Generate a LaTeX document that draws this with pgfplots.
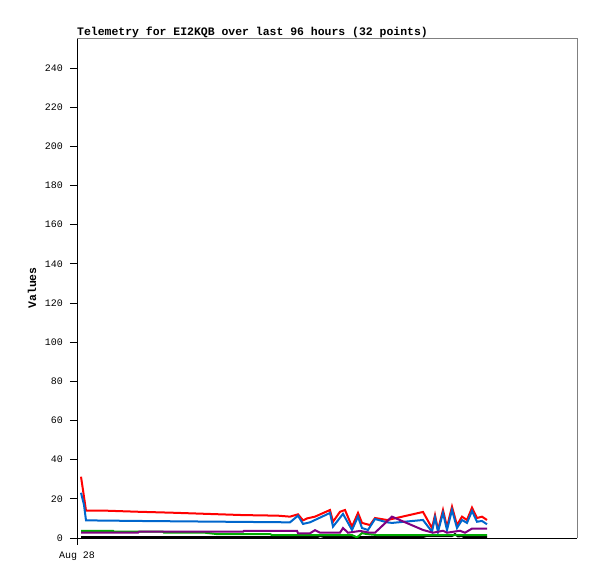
\documentclass[border=0pt]{standalone}
\usepackage{fontspec}
\setmainfont{Liberation Mono}
\usepackage{pgfplots}
\pgfplotsset{compat=1.18}
\definecolor{tred}{RGB}{255,0,0}
\definecolor{tblue}{RGB}{0,102,204}
\definecolor{tgreen}{RGB}{0,170,0}
\definecolor{tpurple}{RGB}{128,0,128}
\begin{document}
\begin{tikzpicture}
\path[use as bounding box] (0,0) rectangle (597bp,579bp);
\begin{axis}[
    at={(77bp,41bp)}, anchor=south west,
    scale only axis, width=500bp, height=500bp,
    xmin=0, xmax=500, ymin=0, ymax=255.3,
    axis x line*=bottom, axis y line*=left,
    axis line style={black, line width=0.8bp, -},
    tick align=outside,
    major tick length=7bp,
    tick style={black, line width=0.8bp},
    ytick={0,20,...,240},
    xtick={0}, xticklabels={Aug 28},
    /pgf/number format/assume math mode=true,
    tick label style={font=\fontsize{10}{12}\selectfont},
    yticklabel style={anchor=east, inner sep=0pt, xshift=-7bp},
    xticklabel style={anchor=north, inner sep=0pt, yshift=-7bp},
    title={Telemetry for EI2KQB over last 96 hours (32 points)},
    title style={at={(0,1)}, anchor=base west, inner sep=0pt, yshift=-3bp,
        font=\bfseries\fontsize{11.5}{13}\selectfont},
    ylabel={Values},
    ylabel style={at={(axis description cs:-0.09,0.5)}, anchor=center, rotate=0,
        font=\bfseries\fontsize{11.5}{13}\selectfont},
    every axis plot/.append style={line width=2bp, no markers},
    after end axis/.code={
        \draw[gray, line width=0.8bp] (rel axis cs:0,1) -- (rel axis cs:1,1) -- (rel axis cs:1,0);
    },
]
% red
\addplot[tred] coordinates {
(4,31.3) (6,24.5) (9,14) (26,14) (61,13.4) (96,12.9) (131,12.3) (166,11.7)
(201,11.4) (213,10.9) (221,12.1) (226,9) (230,10) (238,10.9) (253,14.3)
(256,8.3) (263,13.4) (268,14.3) (275,5.8) (281,12.8) (285,7.7) (293,6.6)
(298,10.2) (310,9.2) (315,9.7) (346,13.3) (355,5.1) (358,11.7) (361,4.1)
(366,14.3) (370,5.6) (375,16) (380,6.6) (385,10.9) (390,9.2) (395,15.5)
(400,10.2) (405,10.9) (410,9.2)};
% blue
\addplot[tblue] coordinates {
(4,23.1) (7,16.9) (9,9) (61,8.7) (213,8) (221,11.4) (226,7.2) (233,8)
(253,12.8) (256,5.8) (266,12.3) (275,4.1) (281,10.9) (285,5.1) (291,4.1)
(298,9.7) (310,8) (315,7.7) (346,9.2) (355,3.2) (358,10.4) (361,3.2)
(366,12.8) (370,4.1) (375,14.3) (380,5.1) (385,9.2) (390,7.7) (395,13.8)
(400,8.3) (405,8.7) (410,7)};
% black
\addplot[black] coordinates {
(4,0.4) (240,0.4) (243,1) (248,0.4) (345,0.4) (350,1) (375,1) (378,2)
(381,0.8) (385,1) (387,0.4) (410,0.4)};
% green
\addplot[tgreen] coordinates {
(4,3.7) (36,3.7) (37,3.2) (86,3.2) (87,2.7) (128,2.7) (140,2) (193,2)
(195,1.5) (275,1.5) (280,0.3) (285,2.5) (290,2) (300,1.5) (410,1.5)};
% purple
\addplot[tpurple] coordinates {
(4,2.7) (61,2.7) (62,3.2) (166,3.2) (167,3.7) (220,3.7) (221,2.4) (233,2.4)
(238,4) (243,2.7) (263,2.7) (266,5.1) (271,2.7) (283,3.6) (293,2.7)
(298,2.7) (315,10.9) (346,4.1) (356,2.7) (366,3.7) (370,2.7) (383,3.7)
(388,2.7) (395,4.8) (410,4.8)};
\end{axis}
\end{tikzpicture}
\end{document}
